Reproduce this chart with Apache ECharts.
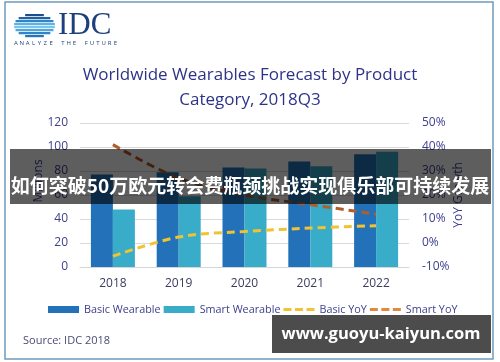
<!DOCTYPE html>
<html><head><meta charset="utf-8">
<script src="https://cdn.jsdelivr.net/npm/echarts/dist/echarts.min.js"></script>
<style>html,body{margin:0;padding:0;background:#fff}#c{width:500px;height:362px}</style>
</head><body><div id="c"></div>
<script>
// ---- data ----
const years = ['2018', '2019', '2020', '2021', '2022'];
const basicWearable = [77, 79, 83, 88, 94];
const smartWearable = [48, 59, 82, 84, 96];
const basicYoY = [-5.5, 2.5, 4.8, 6.2, 7.2];
const smartYoY = [41, 27, 20, 16, 12];
const millionsTicks = { min: 0, max: 120, interval: 20 };
const growthTicks = { min: -10, max: 50, interval: 10 };
const seriesNames = ['Basic Wearable', 'Smart Wearable', 'Basic YoY', 'Smart YoY'];
const titleLines = ['Worldwide Wearables Forecast by Product', 'Category, 2018Q3'];
const bannerText = '如何突破50万欧元转会费瓶颈挑战实现俱乐部可持续发展';
const watermarkText = 'www.guoyu-kaiyun.com';
const sourceText = 'Source: IDC 2018';

// ---- styles ----
const FONT = '"Open Sans", "Noto Sans", sans-serif';
const NAVY = '#3d3f8c';
const C_BASIC = '#2372b9';
const C_SMART = '#38acc9';
const C_BYOY = '#f1c232';
const C_SYOY = '#b25e28';
const C_SYOY_LEG = '#e08a3e';
const DASH_ICON = 'path://M0,0h8v3h-8zM11.5,0h8v3h-8zM23,0h8v3h-8z';

// logo globe stripes (decoration)
const logo = [];
const gcx = 34.5, gcy = 25.5, grx = 20.5, gry = 11.8;
const stripeCols = ['#1b4f8c', '#1f63a6', '#2f86c6', '#5cb2e4', '#7cc4ec', '#4fa6dc', '#2f86c6', '#2a74b6'];
for (let i = 0; i < 8; i++) {
  const y0 = 14 + i * 3;
  const ym = y0 + 1;
  const t = (ym - gcy) / gry;
  const hw = grx * Math.sqrt(Math.max(0, 1 - t * t));
  logo.push({ type: 'rect', z: 50, shape: { x: gcx - hw, y: y0, width: hw * 2, height: 2.2 }, style: { fill: stripeCols[i] } });
}
logo.push({ type: 'text', z: 50, style: { x: 58, y: 25.5, text: 'IDC', font: '31px "Liberation Serif", "DejaVu Serif", serif', fill: '#1d3f7c', textVerticalAlign: 'middle' } });
const tag = 'ANALYZE THE FUTURE';
for (let i = 0; i < tag.length; i++) {
  if (tag[i] === ' ') continue;
  logo.push({ type: 'text', z: 50, style: { x: 16 + i * 5.85, y: 43.5, text: tag[i], font: '6px ' + FONT, fill: '#1d3f7c', textAlign: 'center', textVerticalAlign: 'middle' } });
}

const chart = echarts.init(document.getElementById('c'), null, { renderer: 'canvas' });
chart.setOption({
  backgroundColor: '#ffffff',
  animation: false,
  title: {
    text: titleLines.join('\n'),
    left: 245, top: 58, textAlign: 'center',
    textStyle: { fontFamily: FONT, fontSize: 17, fontWeight: 'normal', color: '#2e3388', lineHeight: 25 }
  },
  grid: { left: 80, right: 91, top: 123, bottom: 95, containLabel: false },
  legend: {
    left: 43, top: 299,
    itemWidth: 31, itemHeight: 7, itemGap: 3,
    symbolKeepAspect: true,
    textStyle: { fontFamily: FONT, fontSize: 10.8, color: NAVY },
    data: [
      { name: seriesNames[0], icon: 'rect' },
      { name: seriesNames[1], icon: 'rect' },
      { name: seriesNames[2], icon: DASH_ICON, itemStyle: { color: C_BYOY } },
      { name: seriesNames[3], icon: DASH_ICON, itemStyle: { color: C_SYOY_LEG } }
    ]
  },
  xAxis: {
    type: 'category', data: years,
    axisLine: { show: true, lineStyle: { color: '#d6d6d6' } },
    axisTick: { show: false },
    axisLabel: { margin: 11, fontFamily: FONT, fontSize: 12, color: '#3b3b5e' }
  },
  yAxis: [
    {
      type: 'value', min: millionsTicks.min, max: millionsTicks.max, interval: millionsTicks.interval,
      axisLine: { show: false }, axisTick: { show: false },
      splitLine: { lineStyle: { color: '#dadada' } },
      axisLabel: { margin: 12, fontFamily: FONT, fontSize: 12, color: NAVY }
    },
    {
      type: 'value', min: growthTicks.min, max: growthTicks.max, interval: growthTicks.interval,
      axisLine: { show: false }, axisTick: { show: false }, splitLine: { show: false },
      axisLabel: { margin: 13, fontFamily: FONT, fontSize: 12, color: NAVY, formatter: '{value}%' }
    }
  ],
  series: [
    { name: seriesNames[0], type: 'bar', data: basicWearable, barWidth: 22, barGap: '0%', itemStyle: { color: C_BASIC } },
    { name: seriesNames[1], type: 'bar', data: smartWearable, barWidth: 22, barGap: '0%', itemStyle: { color: C_SMART } },
    { name: seriesNames[2], type: 'line', yAxisIndex: 1, data: basicYoY, symbol: 'none', smooth: 0.35,
      itemStyle: { color: C_BYOY }, lineStyle: { color: C_BYOY, width: 3, type: [8, 5] }, z: 5 },
    { name: seriesNames[3], type: 'line', yAxisIndex: 1, data: smartYoY, symbol: 'none', smooth: 0.35,
      itemStyle: { color: C_SYOY }, lineStyle: { color: C_SYOY, width: 3, type: [8, 5] }, z: 5 }
  ],
  graphic: [
    { type: 'rect', z: 40, shape: { x: 5, y: 2, width: 488, height: 357 }, style: { fill: null, stroke: '#6f9bba', lineWidth: 1.5 } },
    ...logo,
    { type: 'text', z: 40, style: { x: 39, y: 181, text: 'Millions', font: '12px ' + FONT, fill: NAVY, textAlign: 'center', textVerticalAlign: 'middle' }, rotation: Math.PI / 2, originX: 39, originY: 181 },
    { type: 'text', z: 40, style: { x: 459, y: 195, text: 'YoY Growth', font: '12px ' + FONT, fill: NAVY, textAlign: 'center', textVerticalAlign: 'middle' }, rotation: Math.PI / 2, originX: 459, originY: 195 },
    { type: 'text', z: 40, style: { x: 23, y: 341, text: sourceText, font: '11px ' + FONT, fill: '#4a4a78', textVerticalAlign: 'middle' } },
    { type: 'rect', z: 100, shape: { x: 10, y: 149, width: 481, height: 55 }, style: { fill: 'rgba(0,0,0,0.63)' } },
    { type: 'text', z: 101, style: { x: 250, y: 186, text: bannerText, font: 'bold 19px "Noto Sans CJK SC", sans-serif', fill: '#ffffff', textAlign: 'center', textVerticalAlign: 'middle' } },
    { type: 'rect', z: 100, shape: { x: 272, y: 315, width: 219, height: 38 }, style: { fill: 'rgba(0,0,0,0.7)' } },
    { type: 'text', z: 101, style: { x: 381, y: 334, text: watermarkText, font: 'bold 16.5px "Open Sans", "DejaVu Sans", sans-serif', fill: '#ffffff', textAlign: 'center', textVerticalAlign: 'middle' } }
  ]
});
</script>
</body></html>
